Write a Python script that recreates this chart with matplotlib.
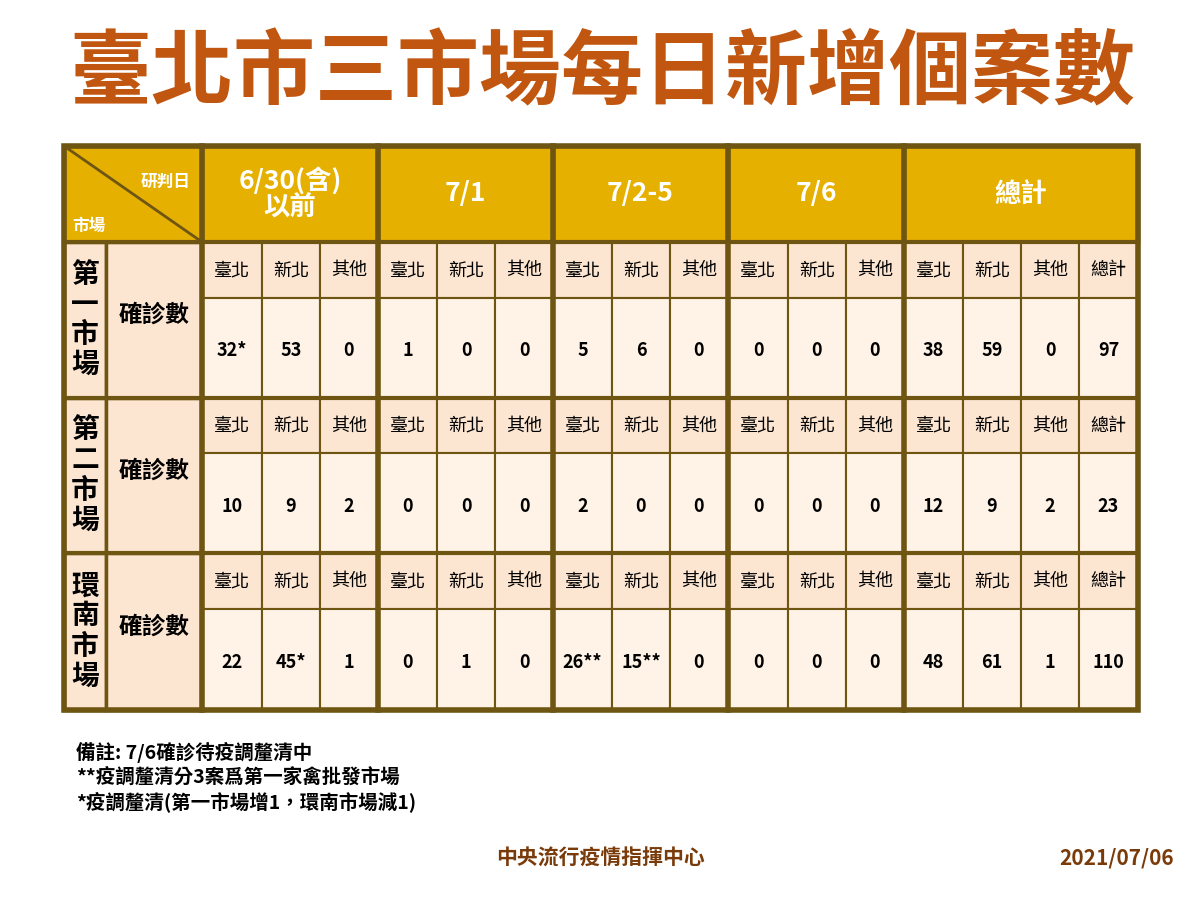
import matplotlib
matplotlib.use("Agg")
import matplotlib.pyplot as plt
from matplotlib.patches import Rectangle

plt.rcParams['font.family'] = ['Noto Sans CJK TC', 'DejaVu Sans']

title = "臺北市三市場每日新增個案數"
periods = ["6/30(含)\n以前", "7/1", "7/2-5", "7/6", "總計"]
markets = ["第\n一\n市\n場", "第\n二\n市\n場", "環\n南\n市\n場"]
sub_labels = ["臺北", "新北", "其他"]
values = [
    ["32*", "53", "0", "1", "0", "0", "5", "6", "0", "0", "0", "0", "38", "59", "0", "97"],
    ["10", "9", "2", "0", "0", "0", "2", "0", "0", "0", "0", "0", "12", "9", "2", "23"],
    ["22", "45*", "1", "0", "1", "0", "26**", "15**", "0", "0", "0", "0", "48", "61", "1", "110"],
]
notes = ["備註: 7/6確診待疫調釐清中", "**疫調釐清分3案爲第一家禽批發市場", "*疫調釐清(第一市場增1，環南市場減1)"]

GOLD = "#E5B000"
BORDER = "#6E5512"
PEACH = "#FCE6D2"
CREAM = "#FEF3E6"
TITLE_C = "#C0560F"

fig = plt.figure(figsize=(12, 9), dpi=100)
ax = fig.add_axes([0, 0, 1, 1])
ax.set_xlim(0, 1200); ax.set_ylim(900, 0); ax.axis('off')

ax.text(602, 75, title, ha='center', va='center', fontsize=59, fontweight='black', color=TITLE_C)

xcols = [202, 262, 320, 378, 437, 495, 553, 612, 670, 728, 788, 846, 904, 963, 1021, 1079, 1138]
x0, x1m, x2m = 64, 106, 202
ytop, yhead = 146, 242
rows = [(242, 298, 398), (398, 453, 553), (553, 609, 710)]

def cell(xa, ya, xb, yb, fc, lw=2.5):
    ax.add_patch(Rectangle((xa, ya), xb - xa, yb - ya, facecolor=fc, edgecolor=BORDER, lw=lw))

cell(x0, ytop, x2m, yhead, GOLD)
ax.plot([x0, x2m], [ytop, yhead], color=BORDER, lw=2)
ax.text(190, 182, "研判日", ha='right', va='center', fontsize=12, fontweight='bold', color='white')
ax.text(72, 226, "市場", ha='left', va='center', fontsize=12, fontweight='bold', color='white')
for g, p in enumerate(periods):
    xa = xcols[3 * g]; xb = xcols[-1] if g == 4 else xcols[3 * g + 3]
    cell(xa, ytop, xb, yhead, GOLD)
    ax.text((xa + xb) / 2, 194, p, ha='center', va='center', fontsize=19, fontweight='bold',
            color='white', linespacing=1.0)

for m, (ya, yb, yc) in enumerate(rows):
    cell(x0, ya, x1m, yc, PEACH)
    ax.text((x0 + x1m) / 2, (ya + yc) / 2, markets[m], ha='center', va='center', fontsize=20,
            fontweight='black', color='black', linespacing=1.1)
    cell(x1m, ya, x2m, yc, PEACH)
    ax.text((x1m + x2m) / 2, (ya + yc) / 2 - 5, "確診數", ha='center', va='center', fontsize=17,
            fontweight='bold', color='black')
    for c in range(16):
        xa, xb = xcols[c], xcols[c + 1]
        lab = "總計" if c == 15 else sub_labels[c % 3]
        cell(xa, ya, xb, yb, PEACH, lw=1.5)
        ax.text((xa + xb) / 2, (ya + yb) / 2, lab, ha='center', va='center', fontsize=13,
                fontweight='medium', color='black')
        cell(xa, yb, xb, yc, CREAM, lw=1.5)
        ax.text((xa + xb) / 2, (yb + yc) / 2 + 3, values[m][c], ha='center', va='center', fontsize=13,
                fontweight='bold', color='black')

for xg in [x2m, 378, 553, 728, 904]:
    ax.plot([xg, xg], [ytop, 710], color=BORDER, lw=4)
for yg in [yhead, 398, 553]:
    ax.plot([x0, 1138], [yg, yg], color=BORDER, lw=3)
ax.add_patch(Rectangle((x0, ytop), 1138 - x0, 710 - ytop, facecolor='none', edgecolor=BORDER, lw=4))

for i, n in enumerate(notes):
    ax.text(76, 752 + i * 25, n, ha='left', va='center', fontsize=14, fontweight='bold', color='black')

ax.text(600, 858, "中央流行疫情指揮中心", ha='center', va='center', fontsize=15, fontweight='bold', color='#7A3B0A')
ax.text(1174, 858, "2021/07/06", ha='right', va='center', fontsize=15, fontweight='bold', color='#7A3B0A')

fig.savefig("out.png", dpi=100)
